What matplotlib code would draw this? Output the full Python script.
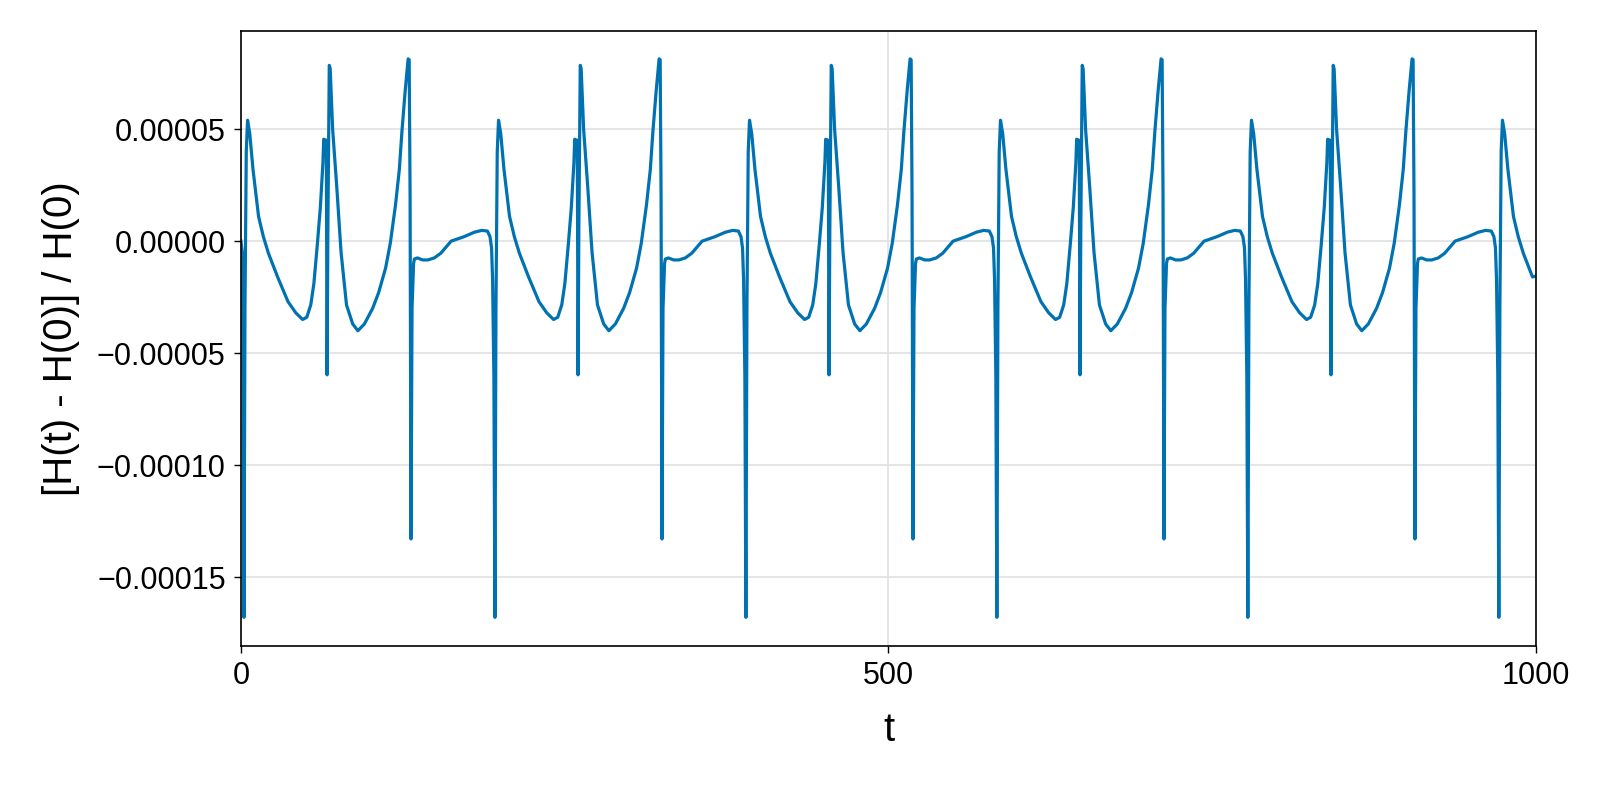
import numpy as np
import matplotlib
matplotlib.use("Agg")
import matplotlib.pyplot as plt

# one cycle of the relative energy error (rel time after each spike, value in 1e-5)
cycle_t = [0.0, 0.8, 1.8, 2.8, 4.5, 7.0, 11.3, 15.0, 18.9, 26.0, 34.0, 40.0, 45.3, 48.5, 51.6, 54.0,
           56.6, 59.0, 61.0, 61.6, 63.6, 64.2, 64.8, 65.9, 66.6, 68.5, 71.7, 75.0, 79.2, 84.0, 88.0,
           93.0, 99.4, 104.0, 109.4, 113.0, 117.0, 120.0, 122.0, 124.5, 126.8, 127.6, 128.3, 129.0,
           129.8, 131.0, 131.6, 134.0, 138.0, 142.0, 147.0, 152.0, 160.0, 170.0, 178.0, 183.6, 188.0,
           190.0, 191.2, 192.0, 193.0]
cycle_v = [-16.8, -3.0, 4.0, 5.4, 4.8, 3.2, 1.1, 0.2, -0.54, -1.6, -2.7, -3.2, -3.5, -3.4, -2.85, -1.9,
           -0.2, 1.5, 3.5, 4.55, 4.5, -5.97, 0.5, 7.85, 7.7, 5.0, 2.4, -0.5, -2.85, -3.7, -4.0,
           -3.7, -3.0, -2.3, -1.2, -0.1, 1.6, 3.2, 4.9, 6.7, 8.14, 8.1, 2.0, -13.3,
           -3.0, -1.0, -0.8, -0.75, -0.84, -0.84, -0.75, -0.54, 0.0, 0.2, 0.4, 0.48, 0.45,
           0.2, -0.3, -1.7, -6.0]
spike_times = [2.3, 196.1, 389.9, 583.7, 777.5, 971.3]
start_t = [0.0, 1.0, 1.8]
start_v = [0.0, -0.5, -6.0]
end_t = 1000.0
end_v = -1.56

t = list(start_t)
v = list(start_v)
for s in spike_times:
    for ct, cv in zip(cycle_t, cycle_v):
        if s + ct <= end_t:
            t.append(s + ct)
            v.append(cv)
t.append(end_t)
v.append(end_v)
t = np.array(t)
y = np.array(v) * 1e-5

plt.rcParams['font.family'] = ['Liberation Sans', 'DejaVu Sans']
plt.rcParams['axes.unicode_minus'] = True
fig = plt.figure(figsize=(16, 8), dpi=100)
ax = fig.add_axes([0.1506, 0.1925, 0.8094, 0.7685])
ax.plot(t, y, color='#0072B2', lw=2.3)
ax.set_xlim(0, 1000)
ax.set_ylim(-1.808e-4, 0.9375e-4)
ax.set_xticks([0, 500, 1000])
ax.set_xticklabels(['0', '500', '1000'])
yt = [-1.5e-4, -1e-4, -0.5e-4, 0, 0.5e-4]
ax.set_yticks(yt)
ax.set_yticklabels(['\u22120.00015', '\u22120.00010', '\u22120.00005', '0.00000', '0.00005'])
ax.grid(True, color='#e0e0e0', lw=1.2)
ax.set_axisbelow(True)
ax.tick_params(labelsize=22, length=5, width=1, pad=6)
ax.set_xlabel('t', fontsize=29, labelpad=14)
ax.set_ylabel('[H(t) - H(0)] / H(0)', fontsize=29, labelpad=12)
for sp in ax.spines.values():
    sp.set_linewidth(1.2)
fig.savefig('out.png')
